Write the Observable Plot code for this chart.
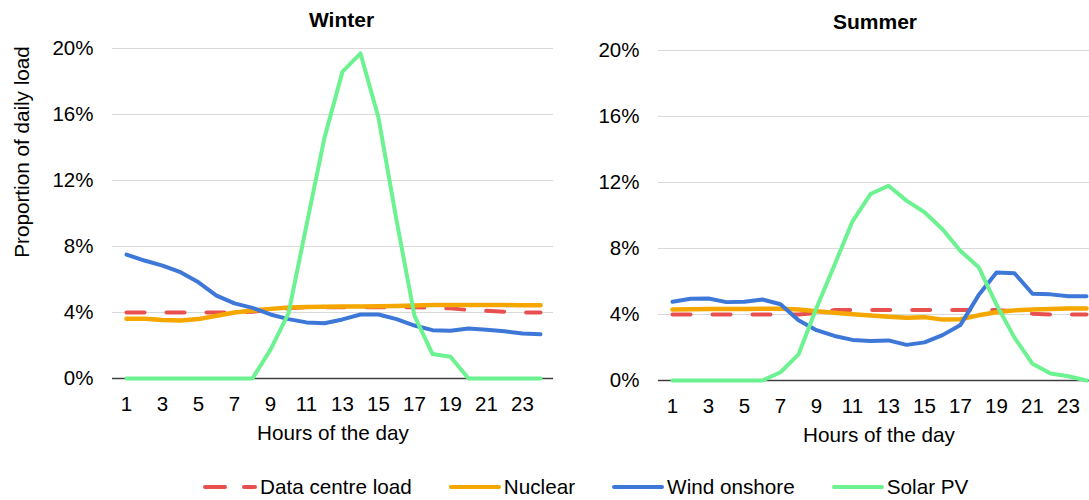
<!DOCTYPE html>
<html>
<head>
<meta charset="utf-8">
<script src="https://cdn.jsdelivr.net/npm/d3@7"></script>
<script src="https://cdn.jsdelivr.net/npm/@observablehq/plot@0.6"></script>
<style>
  body { margin: 0; background: #fff; font-family: "Liberation Sans", Arial, sans-serif; }
  #wrap { position: relative; width: 1089px; height: 500px; overflow: hidden; background: #fff; }
  .panel { position: absolute; }
  #legend { position: absolute; left: 203px; top: 474px; height: 26px; display: flex; align-items: center; font-size: 20.7px; color: #000; white-space: nowrap; }
  .item { display: flex; align-items: center; margin-right: 37px; }
  .item svg { display: block; }
  .item span { margin-left: 3px; line-height: 26px; }
</style>
</head>
<body>
<div id="wrap"></div>
<script>
// ---- data (percent of daily load) ----
const hours = [1,2,3,4,5,6,7,8,9,10,11,12,13,14,15,16,17,18,19,20,21,22,23,24];
const xTicks = [1,3,5,7,9,11,13,15,17,19,21,23];
const yTicks = [0,4,8,12,16,20];
const seriesNames = ["Data centre load","Nuclear","Wind onshore","Solar PV"];
const seriesColors = ["#e8504f","#f5a700","#3d78d8","#6cf291"];
const seasonTitles = ["Winter","Summer"];
const xLabel = "Hours of the day";
const yLabel = "Proportion of daily load";

const winterDataCentre = [4.0,4.0,4.0,4.0,4.0,4.0,4.0,4.05,4.15,4.25,4.32,4.32,4.32,4.32,4.32,4.32,4.32,4.3,4.25,4.15,4.1,4.05,4.0,4.0];
const winterNuclear    = [3.62,3.62,3.55,3.52,3.6,3.8,4.0,4.12,4.22,4.3,4.33,4.35,4.36,4.37,4.38,4.4,4.42,4.45,4.46,4.46,4.46,4.45,4.44,4.44];
const winterWind       = [7.51,7.15,6.84,6.44,5.83,5.02,4.55,4.28,3.88,3.6,3.4,3.35,3.58,3.88,3.88,3.6,3.21,2.93,2.89,3.03,2.96,2.86,2.73,2.68];
const winterSolar      = [0,0,0,0,0,0,0,0,1.75,3.95,9.3,14.6,18.6,19.7,15.8,9.6,3.8,1.48,1.32,0,0,0,0,0];

const summerDataCentre = [4.0,4.0,4.0,4.0,4.0,4.0,4.0,4.0,4.1,4.27,4.27,4.27,4.27,4.27,4.27,4.27,4.27,4.27,4.27,4.2,4.05,4.0,4.0,4.0];
const summerNuclear    = [4.3,4.32,4.33,4.34,4.34,4.35,4.35,4.3,4.2,4.1,4.02,3.94,3.87,3.8,3.84,3.69,3.71,3.95,4.14,4.25,4.3,4.34,4.37,4.36];
const summerWind       = [4.77,4.96,4.97,4.75,4.77,4.91,4.62,3.65,3.05,2.7,2.46,2.4,2.43,2.16,2.31,2.75,3.37,5.16,6.54,6.5,5.26,5.22,5.1,5.1];
const summerSolar      = [0,0,0,0,0,0,0.5,1.58,4.4,7.0,9.65,11.3,11.8,10.9,10.2,9.17,7.85,6.88,4.6,2.6,1.01,0.43,0.26,0];

function toRows(seriesArrays) {
  const rows = [];
  seriesArrays.forEach((arr, i) => {
    arr.forEach((v, j) => rows.push({ hour: hours[j], value: v, series: seriesNames[i] }));
  });
  return rows;
}

function makePanel(title, seriesArrays, withYLabel, titleDx) {
  const rows = toRows(seriesArrays);
  const bySeries = (name) => rows.filter(d => d.series === name);
  const marks = [
    Plot.gridY(yTicks.filter(d => d > 0), { stroke: "#d9d9d9", strokeOpacity: 1, strokeWidth: 1 }),
    Plot.axisY(yTicks, { tickSize: 0, tickPadding: 19, tickFormat: d => d + "%", fontSize: 20.5, label: null }),
    Plot.axisX(xTicks, { tickSize: 0, tickPadding: 18, fontSize: 20.5, label: null }),
    Plot.ruleY([0], { stroke: "#404040", strokeWidth: 1.3 }),
    Plot.line(bySeries(seriesNames[0]), { x: "hour", y: "value", stroke: seriesColors[0], strokeWidth: 4, strokeDasharray: "18,22", strokeLinecap: "round" }),
    Plot.line(bySeries(seriesNames[1]), { x: "hour", y: "value", stroke: seriesColors[1], strokeWidth: 4.5, strokeLinecap: "round", strokeLinejoin: "round" }),
    Plot.line(bySeries(seriesNames[2]), { x: "hour", y: "value", stroke: seriesColors[2], strokeWidth: 4, strokeLinecap: "round", strokeLinejoin: "round" }),
    Plot.line(bySeries(seriesNames[3]), { x: "hour", y: "value", stroke: seriesColors[3], strokeWidth: 4, strokeLinecap: "round", strokeLinejoin: "round" }),
    Plot.text([title], { frameAnchor: "top", lineAnchor: "bottom", dy: -21.3, dx: titleDx, fontSize: 21, fontWeight: "bold", fill: "#000" }),
    Plot.text([xLabel], { frameAnchor: "bottom", lineAnchor: "top", dy: 47, fontSize: 20.7, fill: "#000" })
  ];
  if (withYLabel) {
    marks.push(Plot.text([yLabel], { frameAnchor: "left", textAnchor: "middle", rotate: -90, lineAnchor: "middle", dx: -90.5, dy: -61.5, fontSize: 20.7, fill: "#000" }));
  }
  return Plot.plot({
    width: 560,
    height: 450,
    marginTop: 48,
    marginBottom: 72,
    marginLeft: 112,
    marginRight: 7,
    style: { fontFamily: "'Liberation Sans', Arial, sans-serif", fontSize: "20.5px", color: "#000", background: "transparent", overflow: "visible" },
    x: { type: "point", domain: hours, padding: 0.5 },
    y: { domain: [0, 20] },
    marks
  });
}

const wrap = document.getElementById("wrap");
const winter = makePanel(seasonTitles[0], [winterDataCentre, winterNuclear, winterWind, winterSolar], true, 8.5);
winter.classList.add("panel");
winter.style.left = "0px";
winter.style.top = "0px";
wrap.appendChild(winter);

const summer = makePanel(seasonTitles[1], [summerDataCentre, summerNuclear, summerWind, summerSolar], false, -4);
summer.classList.add("panel");
summer.style.left = "546px";
summer.style.top = "1.5px";
wrap.appendChild(summer);

// legend
const legend = document.createElement("div");
legend.id = "legend";
seriesNames.forEach((name, i) => {
  const item = document.createElement("div");
  item.className = "item";
  const w = i === 0 ? 54 : 52;
  const dash = i === 0 ? ' stroke-dasharray="20,19"' : '';
  item.innerHTML = `<svg width="${w}" height="10"><line x1="2" y1="5" x2="${w - 2}" y2="5" stroke="${seriesColors[i]}" stroke-width="4" stroke-linecap="round"${dash}/></svg><span>${name}</span>`;
  legend.appendChild(item);
});
wrap.appendChild(legend);
</script>
</body>
</html>
